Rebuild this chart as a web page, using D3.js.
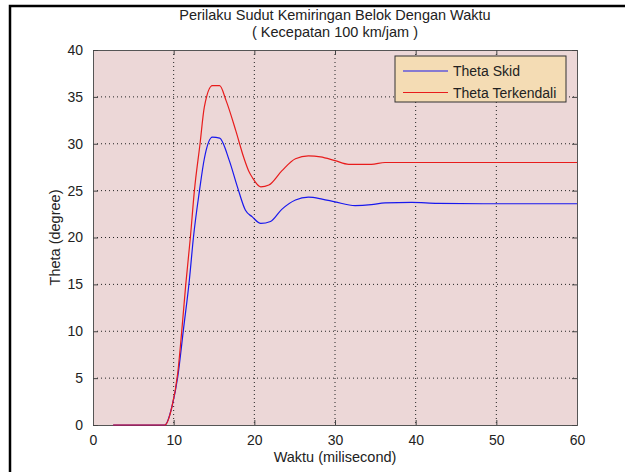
<!DOCTYPE html>
<html><head><meta charset="utf-8">
<script src="https://cdn.jsdelivr.net/npm/d3@7"></script>
<style>body{margin:0;background:#fff}svg{display:block}text{font-family:"Liberation Sans",Arial,sans-serif;fill:#222}</style>
</head><body><svg id="c" width="625" height="472"></svg>
<script>
const titleLines = ["Perilaku Sudut Kemiringan Belok Dengan Waktu", "( Kecepatan 100 km/jam )"];
const xLabel = "Waktu (milisecond)";
const yLabel = "Theta (degree)";
const xTicks = [0, 10, 20, 30, 40, 50, 60];
const yTicks = [0, 5, 10, 15, 20, 25, 30, 35, 40];
const seriesNames = ["Theta Skid", "Theta Terkendali"];
const skidT = [2.5, 8.9, 9.8, 10.5, 11.2, 11.95, 12.45, 13.2, 13.8, 14.8, 15.7, 16.9, 17.9, 18.9, 19.75, 20.8, 22, 23.4, 25.1, 26.7, 28.4, 30, 32.5, 34.5, 36.2, 39.5, 42.7, 50, 60];
const skidV = [0, 0, 2.0, 5.1, 10.1, 15.5, 20, 25, 28.4, 30.7, 30.6, 28.2, 25.4, 22.9, 22.2, 21.5, 21.7, 23.0, 24.0, 24.3, 24.1, 23.8, 23.4, 23.5, 23.7, 23.75, 23.65, 23.6, 23.6];
const ctrlT = [2.5, 8.9, 9.8, 10.5, 11.0, 11.5, 12.07, 12.57, 13.27, 13.8, 14.8, 15.7, 16.5, 17.7, 18.7, 19.3, 19.75, 20.8, 21.8, 23.4, 25.1, 26.7, 28.2, 30, 31.7, 34.5, 36.2, 46, 60];
const ctrlV = [0, 0, 2.0, 5.5, 10, 15, 20, 25, 30, 33.9, 36.2, 36.2, 34.6, 31.4, 28.5, 27.1, 26.4, 25.4, 25.6, 27.1, 28.4, 28.7, 28.6, 28.2, 27.8, 27.8, 28.0, 28.0, 28.0];
const colors = ["#1818ee", "#e81c1c"];

const svg = d3.select("#c");
const L = 93, R = 577, T = 50, B = 425;
const x = d3.scaleLinear().domain([0, 60]).range([L, R]);
const y = d3.scaleLinear().domain([0, 40]).range([B, T]);

// outer frame
svg.append("rect").attr("x", 10).attr("y", 6).attr("width", 700).attr("height", 600)
  .attr("fill", "#fff").attr("stroke", "#000").attr("stroke-width", 2.5);

// plot bg
svg.append("rect").attr("x", L).attr("y", T).attr("width", R - L).attr("height", B - T).attr("fill", "#ecd7d7");

// grid
const g = svg.append("g");
g.selectAll(".gx").data(xTicks.slice(1, -1)).join("line")
  .attr("x1", d => x(d)).attr("x2", d => x(d)).attr("y1", T).attr("y2", B)
  .attr("stroke", "#222").attr("stroke-width", 1).attr("stroke-dasharray", "1,3");
g.selectAll(".gy").data(yTicks.slice(1, -1)).join("line")
  .attr("y1", d => y(d)).attr("y2", d => y(d)).attr("x1", L).attr("x2", R)
  .attr("stroke", "#222").attr("stroke-width", 1).attr("stroke-dasharray", "1,3");

// axes
const ax = svg.append("g").attr("transform", `translate(0,${B})`)
  .call(d3.axisBottom(x).tickValues(xTicks).tickSize(-5).tickPadding(10));
const axT = svg.append("g").attr("transform", `translate(0,${T})`)
  .call(d3.axisTop(x).tickValues(xTicks).tickSize(-5).tickFormat(""));
const ay = svg.append("g").attr("transform", `translate(${L},0)`)
  .call(d3.axisLeft(y).tickValues(yTicks).tickSize(-5).tickPadding(10));
const ayR = svg.append("g").attr("transform", `translate(${R},0)`)
  .call(d3.axisRight(y).tickValues(yTicks).tickSize(-5).tickFormat(""));
[ax, axT, ay, ayR].forEach(a => {
  a.select(".domain").attr("stroke", "#555");
  a.selectAll(".tick line").attr("stroke", "#444");
  a.selectAll("text").attr("font-size", 14).attr("font-family", "Liberation Sans, Arial, sans-serif").attr("fill", "#2a2a2a");
});

// lines
const line = d3.line().x(d => x(d[0])).y(d => y(d[1])).curve(d3.curveMonotoneX);
const series = [d3.zip(skidT, skidV), d3.zip(ctrlT, ctrlV)];
series.forEach((s, i) => {
  svg.append("path").datum(s).attr("d", line).attr("fill", "none")
    .attr("stroke", colors[i]).attr("stroke-width", 1.2);
});

// legend
const lg = svg.append("g");
lg.append("rect").attr("x", 395).attr("y", 56).attr("width", 171).attr("height", 46)
  .attr("fill", "#f4dcb4").attr("stroke", "#333").attr("stroke-width", 1);
seriesNames.forEach((n, i) => {
  const yy = 71 + i * 21.5;
  lg.append("line").attr("x1", 403).attr("x2", 448).attr("y1", yy).attr("y2", yy)
    .attr("stroke", colors[i]).attr("stroke-width", 1.2);
  lg.append("text").attr("x", 453).attr("y", yy + 5).attr("font-size", 14).text(n);
});

// titles
titleLines.forEach((t, i) => {
  svg.append("text").attr("x", (L + R) / 2).attr("y", 20 + i * 17)
    .attr("text-anchor", "middle").attr("font-size", 14.5).text(t);
});
svg.append("text").attr("x", (L + R) / 2).attr("y", 462).attr("text-anchor", "middle")
  .attr("font-size", 14.5).text(xLabel);
svg.append("text").attr("transform", `translate(60,${(T + B) / 2}) rotate(-90)`)
  .attr("text-anchor", "middle").attr("font-size", 14.5).text(yLabel);
</script></body></html>
